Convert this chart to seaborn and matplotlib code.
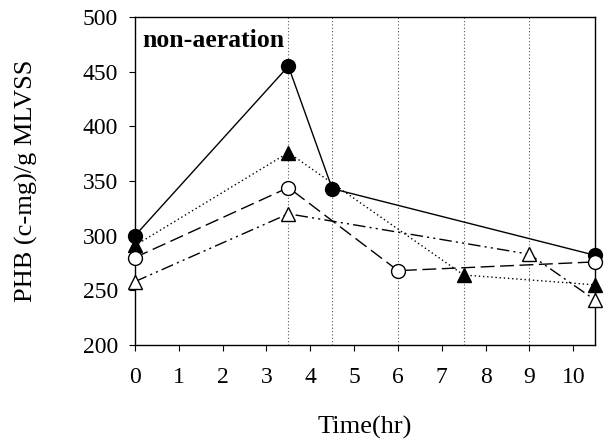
import seaborn as sns
import matplotlib.pyplot as plt
import pandas as pd
import numpy as np

# data
time_a = [0, 3.5, 4.5, 10.5]
phb_a = [300, 455, 343, 282]          # filled circles, solid
time_b = [0, 3.5, 7.5, 10.5]
phb_b = [291, 376, 264, 255]          # filled triangles, dotted
time_c = [0, 3.5, 6, 10.5]
phb_c = [280, 344, 268, 276]          # open circles, long dash
time_d = [0, 3.5, 9, 10.5]
phb_d = [258, 320, 283, 241]          # open triangles, dash-dot-dot
sample_times = [3.5, 4.5, 6, 7.5, 9]
xticks = list(range(0, 11))
yticks = [200, 250, 300, 350, 400, 450, 500]

sns.set_style('ticks')
plt.rcParams['font.family'] = ['Liberation Serif', 'DejaVu Serif']
plt.rcParams['text.color'] = 'black'
plt.rcParams['axes.labelcolor'] = 'black'
plt.rcParams['xtick.color'] = 'black'
plt.rcParams['ytick.color'] = 'black'

fig = plt.figure(figsize=(6.08, 4.42), dpi=100)
ax = fig.add_axes([0.222, 0.2195, 0.757, 0.742])

for t in sample_times:
    ax.axvline(t, color='#555555', linestyle=(0, (1, 2)), linewidth=0.8, zorder=1)

series = [
    (time_a, phb_a, 'o', 'black', '-'),
    (time_b, phb_b, '^', 'black', (0, (1, 2))),
    (time_c, phb_c, 'o', 'white', (0, (10, 4))),
    (time_d, phb_d, '^', 'white', (0, (9, 3, 1.5, 3, 1.5, 3))),
]
for xs, ys, mk, fc, ls in series:
    df = pd.DataFrame({'t': xs, 'phb': ys})
    sns.lineplot(data=df, x='t', y='phb', ax=ax, color='black', linewidth=1.0,
                 linestyle=ls, marker=mk, markersize=10, markerfacecolor=fc,
                 markeredgecolor='black', markeredgewidth=1.0, zorder=3,
                 clip_on=False)

ax.set_xlim(0, 10.5)
ax.set_ylim(200, 500)
ax.set_xticks(xticks)
ax.set_yticks(yticks)
ax.tick_params(axis='x', direction='out', length=4, labelsize=17, pad=12)
ax.tick_params(axis='y', direction='out', length=4, labelsize=17, pad=8)
for s in ax.spines.values():
    s.set_color('black')
    s.set_linewidth(1.0)

ax.set_xlabel('Time(hr)', fontsize=19, labelpad=20)
ax.set_ylabel('PHB (c-mg)/g MLVSS', fontsize=19, labelpad=32)
ax.text(0.17, 472.5, 'non-aeration', fontsize=18.5, fontweight='bold',
        va='baseline', ha='left')

fig.savefig('out.png', dpi=100)
